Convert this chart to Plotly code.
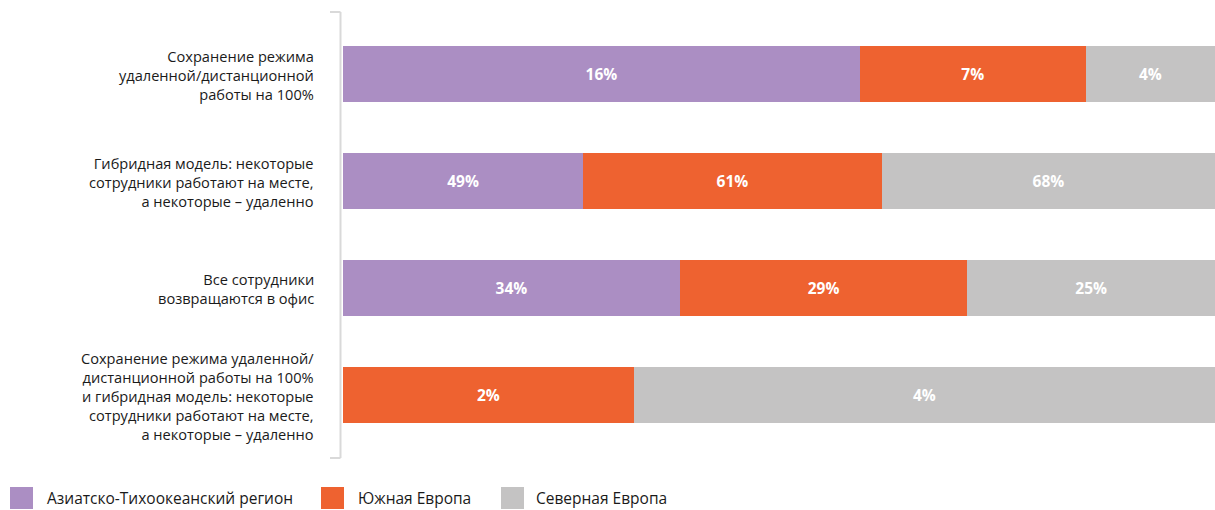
import plotly.graph_objects as go

categories = [
    "Сохранение режима<br>удаленной/дистанционной<br>работы на 100%",
    "Гибридная модель: некоторые<br>сотрудники работают на месте,<br>а некоторые – удаленно",
    "Все сотрудники<br>возвращаются в офис",
    "Сохранение режима удаленной/<br>дистанционной работы на 100%<br>и гибридная модель: некоторые<br>сотрудники работают на месте,<br>а некоторые – удаленно",
]
series_names = ["Азиатско-Тихоокеанский регион", "Южная Европа", "Северная Европа"]
apac = [16, 49, 34, None]
south_eu = [7, 61, 29, 2]
north_eu = [4, 68, 25, 4]
colors = ["#AB8EC3", "#EE6230", "#C4C3C3"]

FONT = "Open Sans"
ypos = list(range(len(categories)))

fig = go.Figure()
for name, vals, col in zip(series_names, [apac, south_eu, north_eu], colors):
    fig.add_trace(go.Bar(
        y=ypos, x=vals, name=name, orientation="h",
        marker=dict(color=col, line=dict(width=0)),
        text=[f"{v}%" if v is not None else "" for v in vals],
        textposition="inside", insidetextanchor="middle",
        textfont=dict(color="white", size=15.5, family=FONT, weight="bold"),
        hoverinfo="skip",
    ))

L, R, T, B = 343, 0, 12, 52
W, H = 1215, 510
pw = W - L - R
ph = H - T - B

fig.update_layout(
    width=W, height=H, barmode="stack", barnorm="percent", bargap=0.48,
    margin=dict(l=L, r=R, t=T, b=B),
    plot_bgcolor="white", paper_bgcolor="white", showlegend=False,
    xaxis=dict(range=[0, 100], visible=False, fixedrange=True),
    yaxis=dict(range=[3.59, -0.58], visible=False, fixedrange=True),
    font=dict(family=FONT, size=14, color="#1a1a1a"),
)

# category labels
for i, c in enumerate(categories):
    fig.add_annotation(x=-27 / pw, xref="paper", y=i, yref="y", text=c, yshift=-1,
                       showarrow=False, xanchor="right", yanchor="middle", align="right",
                       font=dict(family=FONT, size=14.6, color="#1a1a1a"))

# bracket-style axis line
ax_x = -2.5 / pw
tick_x = -13 / pw
line = dict(color="#D9D9D9", width=2)
fig.add_shape(type="line", xref="paper", yref="paper", x0=ax_x, x1=ax_x, y0=0, y1=1, line=line)
fig.add_shape(type="line", xref="paper", yref="paper", x0=tick_x, x1=ax_x, y0=1, y1=1, line=line)
fig.add_shape(type="line", xref="paper", yref="paper", x0=tick_x, x1=ax_x, y0=0, y1=0, line=line)

# custom legend
leg_px = [(10, 45), (321, 356), (501, 534)]
for (sx, tx), name, col in zip(leg_px, series_names, colors):
    x0 = (sx - L) / pw
    x1 = (sx + 23 - L) / pw
    top = (H - B - 487) / ph
    bot = (H - B - 509) / ph
    fig.add_shape(type="rect", xref="paper", yref="paper", x0=x0, x1=x1, y0=bot, y1=top,
                  fillcolor=col, line=dict(width=0))
    fig.add_annotation(x=(tx - L) / pw, xref="paper", y=(H - B - 498) / ph, yref="paper",
                       text=name, showarrow=False, xanchor="left", yanchor="middle",
                       font=dict(family=FONT, size=15.5, color="#1a1a1a"))

fig.write_html("out.html", config={"displayModeBar": False},
               post_script="document.body.style.margin='0';document.body.style.overflow='hidden';")
